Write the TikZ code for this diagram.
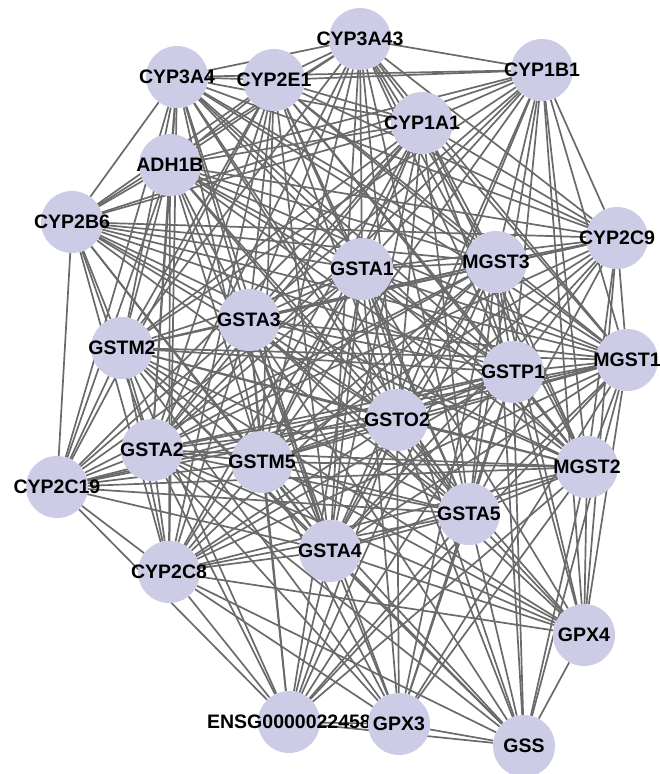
\documentclass[tikz,border=0pt]{standalone}
\usepackage{fontspec}
\setmainfont{Liberation Sans}
\pgfdeclarelayer{bg}
\pgfsetlayers{bg,main}
\definecolor{nodefill}{RGB}{204,204,230}
\definecolor{edgegray}{RGB}{106,106,106}
\begin{document}
\begin{tikzpicture}[x=1pt,y=-1pt,
  gene/.style={circle,fill=nodefill,minimum size=62pt,inner sep=0pt},
  lbl/.style={font=\bfseries\fontsize{19.5}{20}\selectfont,inner sep=0pt,text=black},
  edge/.style={draw=edgegray,line width=1.7pt}]
\useasboundingbox (0,0) rectangle (660,774);
% nodes
\node[gene,label={[lbl]center:CYP3A43}] (A43) at (360,39) {};
\node[gene,label={[lbl]center:CYP1B1}] (B1) at (542,70) {};
\node[gene,label={[lbl]center:CYP3A4}] (A4) at (177,77) {};
\node[gene,label={[lbl]center:CYP2E1}] (E1) at (274,80) {};
\node[gene,label={[lbl]center:CYP1A1}] (A1) at (422,123) {};
\node[gene,label={[lbl]center:ADH1B}] (ADH) at (170,165) {};
\node[gene,label={[lbl]center:CYP2B6}] (B6) at (72,222) {};
\node[gene,label={[lbl]center:CYP2C9}] (C9) at (617,238) {};
\node[gene,label={[lbl]center:GSTA1}] (GA1) at (362,269) {};
\node[gene,label={[lbl]center:MGST3}] (M3) at (496,262) {};
\node[gene,label={[lbl]center:GSTA3}] (GA3) at (249,320) {};
\node[gene,label={[lbl]center:GSTM2}] (GM2) at (122,348) {};
\node[gene,label={[lbl]center:MGST1}] (M1) at (627,360) {};
\node[gene,label={[lbl]center:GSTP1}] (P1) at (513,372) {};
\node[gene,label={[lbl]center:GSTO2}] (O2) at (397,420) {};
\node[gene,label={[lbl]center:GSTA2}] (GA2) at (152,450) {};
\node[gene,label={[lbl]center:GSTM5}] (M5) at (262,462) {};
\node[gene,label={[lbl]center:CYP2C19}] (C19) at (57,487) {};
\node[gene,label={[lbl]center:MGST2}] (MG2) at (587,467) {};
\node[gene,label={[lbl]center:GSTA5}] (GA5) at (469,514) {};
\node[gene,label={[lbl]center:GSTA4}] (GA4) at (330,551) {};
\node[gene,label={[lbl]center:CYP2C8}] (C8) at (169,572) {};
\node[gene,label={[lbl]center:GPX4}] (X4) at (584,635) {};
\node[gene,label={[lbl]center:ENSG0000022458}] (EN) at (289,722) {};
\node[gene,label={[lbl]center:GPX3}] (X3) at (399,724) {};
\node[gene,label={[lbl]center:GSS}] (GSS) at (524,746) {};
% edges
\begin{pgfonlayer}{bg}
% CYP - CYP
\foreach \s/\t in {A43/B1,A43/A4,A43/E1,A43/A1,A43/ADH,A43/B6,A43/C9,
  B1/A4,B1/E1,B1/A1,B1/ADH,B1/B6,B1/C9,
  A4/E1,A4/A1,A4/ADH,A4/B6,A4/C9,A4/C19,A4/C8,
  E1/A1,E1/ADH,E1/B6,E1/C9,E1/C19,E1/C8,
  A1/ADH,A1/B6,A1/C9,A1/C19,A1/C8,
  ADH/B6,ADH/C9,ADH/C19,ADH/C8,
  B6/C9,B6/C19,B6/C8,C19/C8}
  \draw[edge] (\s) -- (\t);
% CYP - GST/MGST
\foreach \s in {A43,B1,A4,E1,A1,ADH,B6,C9,C19,C8}
  \foreach \t in {GA1,M3,GA3,GM2,M1,P1,O2,GA2,M5,MG2,GA5,GA4}
    \draw[edge] (\s) -- (\t);
% GST/MGST - GST/MGST
\foreach \s [count=\i] in {GA1,M3,GA3,GM2,M1,P1,O2,GA2,M5,MG2,GA5,GA4}
  \foreach \t [count=\j] in {GA1,M3,GA3,GM2,M1,P1,O2,GA2,M5,MG2,GA5,GA4}
    {\ifnum\j>\i \draw[edge] (\s) -- (\t);\fi}
% GPX group - GST/MGST
\foreach \s in {X4,EN,X3,GSS}
  \foreach \t in {GA1,M3,GA3,GM2,M1,P1,O2,GA2,M5,MG2,GA5,GA4}
    \draw[edge] (\s) -- (\t);
% others
\foreach \s/\t in {X3/GSS,X4/GSS,EN/X3,EN/GSS,C8/EN,C19/EN,C8/X3,C8/GSS,C8/X4,C9/X4,B1/X4}
  \draw[edge] (\s) -- (\t);
\end{pgfonlayer}
\end{tikzpicture}
\end{document}
